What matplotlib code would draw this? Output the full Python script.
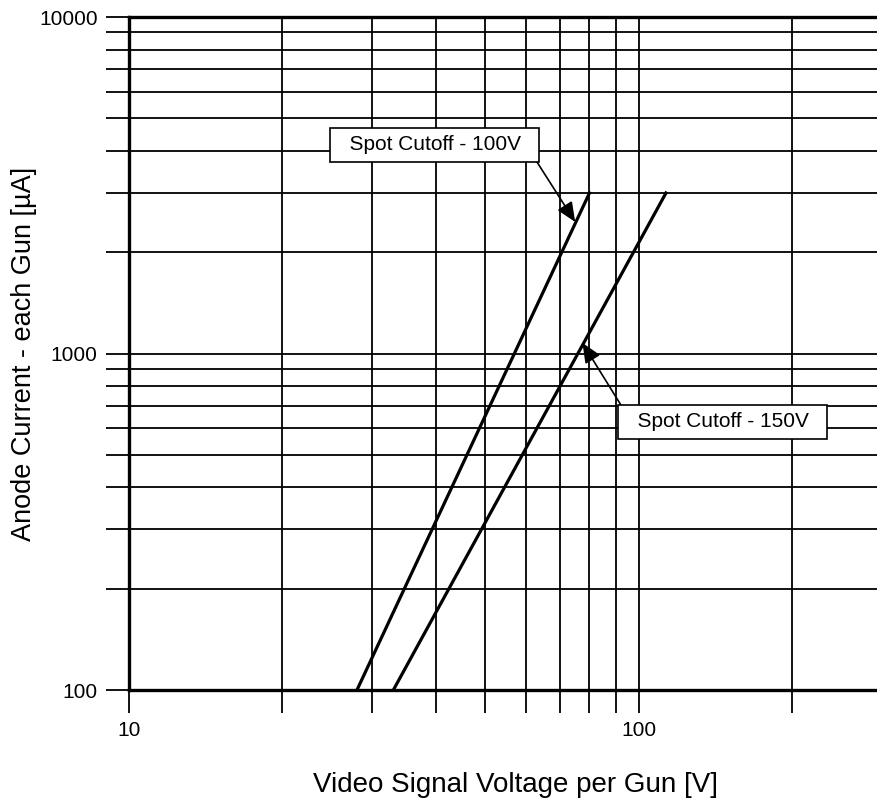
import matplotlib
matplotlib.use('Agg')
import matplotlib.pyplot as plt
from matplotlib.ticker import LogLocator, NullFormatter, FixedLocator, FixedFormatter

plt.rcParams['font.family'] = ['Liberation Sans', 'DejaVu Sans']

# Data (end points of the straight lines on log-log axes)
current = [100, 3000]          # anode current, uA
volts_100 = [28, 80]           # spot cutoff 100 V
volts_150 = [33, 113]          # spot cutoff 150 V

x_ticks = [10, 100]
y_ticks = [100, 1000, 10000]

fig = plt.figure(figsize=(8.77, 7.99), dpi=100)
ax = fig.add_axes([0.147, 0.1364, 0.853, 0.8423])

ax.set_xscale('log')
ax.set_yscale('log')
ax.set_xlim(10, 293)
ax.set_ylim(100, 10000)

# grid: all thin black lines
ax.grid(which='both', color='black', lw=1.3)
ax.set_axisbelow(True)

ax.xaxis.set_major_locator(FixedLocator(x_ticks))
ax.xaxis.set_major_formatter(FixedFormatter([str(v) for v in x_ticks]))
ax.yaxis.set_major_locator(FixedLocator(y_ticks))
ax.yaxis.set_major_formatter(FixedFormatter([str(v) for v in y_ticks]))
ax.xaxis.set_minor_locator(LogLocator(base=10, subs=range(2, 10)))
ax.yaxis.set_minor_locator(LogLocator(base=10, subs=range(2, 10)))
ax.xaxis.set_minor_formatter(NullFormatter())
ax.yaxis.set_minor_formatter(NullFormatter())

ax.tick_params(which='both', length=16.5, width=1.3, direction='out')
ax.tick_params(which='major', labelsize=15, pad=6)

for side in ['left', 'bottom', 'top']:
    ax.spines[side].set_linewidth(2.4)
ax.spines['right'].set_visible(False)

# the two characteristic lines
ax.plot(volts_100, current, color='black', lw=2.3)
ax.plot(volts_150, current, color='black', lw=2.3)

box = dict(boxstyle='square,pad=0.35', fc='white', ec='black', lw=1.2)
arrow = dict(arrowstyle='-|>,head_length=0.8,head_width=0.35',
             color='black', lw=1.2, shrinkA=0, shrinkB=0)
ax.annotate('  Spot Cutoff - 100V  ', xy=(75, 2460), xytext=(39.8, 4170),
            ha='center', va='center', fontsize=15, bbox=box,
            arrowprops=dict(arrow, relpos=(1, 0)))
ax.annotate('  Spot Cutoff - 150V  ', xy=(77.5, 1075), xytext=(146, 626),
            ha='center', va='center', fontsize=15, bbox=box,
            arrowprops=dict(arrow, relpos=(0, 1)))

ax.set_xlabel('Video Signal Voltage per Gun [V]', fontsize=20, labelpad=22.5)
ax.xaxis.label.set_x(0.517)
ax.set_ylabel('Anode Current - each Gun [\u00b5A]', fontsize=19.5, labelpad=1.5)

fig.savefig('out.png', dpi=100)
